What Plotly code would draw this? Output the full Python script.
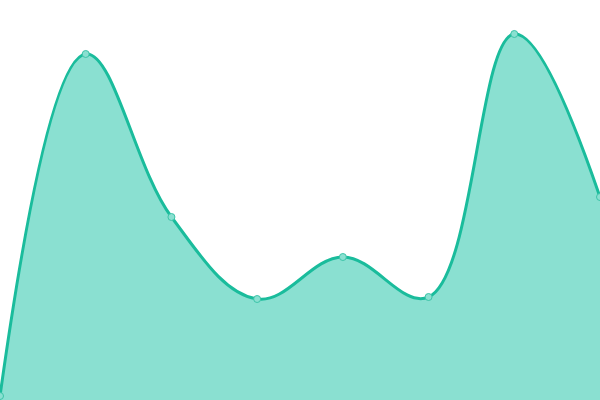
import plotly.graph_objects as go

# data
x_idx = [0, 1, 2, 3, 4, 5, 6, 7]
values = [1, 86.5, 45.75, 25.25, 35.75, 25.75, 91.5, 50.75]

fig = go.Figure()
fig.add_trace(go.Scatter(
    x=x_idx, y=values, mode='lines+markers',
    line=dict(color='#1abc9c', width=3, shape='spline', smoothing=1.1),
    marker=dict(size=7, color='#8ae0d1', line=dict(color='#3cc4a8', width=1)),
    fill='tozeroy', fillcolor='#8ae0d1',
    cliponaxis=False, hoverinfo='skip'))

fig.update_layout(
    width=600, height=400,
    margin=dict(l=0, r=0, t=0, b=0),
    paper_bgcolor='white', plot_bgcolor='white',
    showlegend=False,
    xaxis=dict(range=[0, 7], visible=False, fixedrange=True),
    yaxis=dict(range=[0, 100], visible=False, fixedrange=True))

# drop the default 8px body margin so the chart fills the window
fig.write_html('out.html', config={'displayModeBar': False},
               post_script="document.body.style.margin='0';")
